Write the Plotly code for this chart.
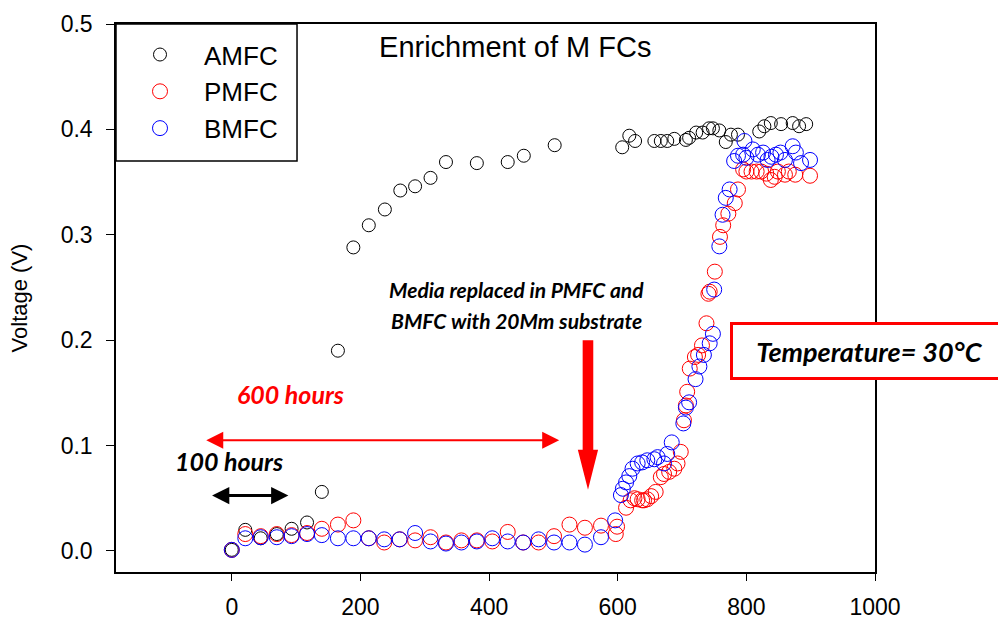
import plotly.graph_objects as go

# ---------------- data ----------------
amfc_x = [0, 21, 45, 70, 93, 117, 140, 165, 189, 213, 238, 262, 285, 309, 333, 381, 429, 454, 502,
          607, 618, 627, 657, 667, 677, 688, 706, 711, 722, 732, 742, 748, 758, 768, 776, 787,
          820, 828, 838, 854, 872, 882, 893]
amfc_y = [0.001, 0.020, 0.012, 0.016, 0.021, 0.027, 0.056, 0.190, 0.288, 0.309, 0.324, 0.342, 0.346, 0.354,
          0.369, 0.368, 0.369, 0.375, 0.385,
          0.383, 0.394, 0.389, 0.389, 0.389, 0.389, 0.391, 0.390, 0.392, 0.397, 0.397, 0.401, 0.401, 0.399,
          0.388, 0.395, 0.395,
          0.398, 0.403, 0.406, 0.405, 0.406, 0.403, 0.405]

pmfc_x = [0, 21, 45, 70, 93, 117, 140, 165, 189, 213, 237, 261, 285, 309, 333, 357, 381, 405, 429, 453,
          477, 501, 525, 549, 574, 597, 599, 613, 620, 626, 631, 638, 641, 646, 652, 659, 667, 672,
          680, 688, 693, 698, 703, 706, 708, 712, 720, 725, 731, 738, 741, 743, 751, 759, 764, 772,
          782, 787, 795, 800, 808, 816, 823, 831, 838, 844, 849, 860, 866, 876, 899]
pmfc_y = [0.001, 0.016, 0.014, 0.016, 0.015, 0.017, 0.021, 0.025, 0.029, 0.012, 0.008, 0.011, 0.010, 0.013,
          0.008, 0.010, 0.010, 0.009, 0.018, 0.008,
          0.008, 0.014, 0.025, 0.022, 0.024, 0.016, 0.023, 0.041, 0.048, 0.050, 0.049, 0.048, 0.048, 0.049,
          0.052, 0.056, 0.070, 0.073,
          0.075, 0.078, 0.083, 0.094, 0.124, 0.138, 0.151, 0.173, 0.184, 0.186, 0.195, 0.216, 0.244, 0.246,
          0.265, 0.298, 0.309, 0.320,
          0.330, 0.343, 0.362, 0.360, 0.360, 0.360, 0.360, 0.358, 0.352, 0.355, 0.360, 0.357, 0.360, 0.357, 0.356]

bmfc_x = [0, 21, 45, 70, 93, 117, 140, 165, 189, 213, 237, 261, 285, 309, 333, 357, 381, 405, 429, 453,
          477, 501, 525, 549, 574, 596, 605, 608, 613, 618, 623, 631, 638, 646, 657, 662, 672, 677,
          684, 702, 706, 711, 721, 727, 734, 743, 748, 750, 758, 763, 768, 774, 781, 787, 795, 797,
          800, 810, 818, 826, 833, 839, 846, 853, 860, 872, 877, 885, 899]
bmfc_y = [0.001, 0.012, 0.013, 0.013, 0.014, 0.016, 0.015, 0.012, 0.012, 0.012, 0.011, 0.011, 0.017, 0.009,
          0.007, 0.008, 0.009, 0.012, 0.009, 0.008,
          0.011, 0.008, 0.008, 0.006, 0.013, 0.029, 0.053, 0.059, 0.065, 0.071, 0.078, 0.083, 0.084, 0.086,
          0.087, 0.089, 0.083, 0.092,
          0.103, 0.121, 0.136, 0.141, 0.163, 0.175, 0.186, 0.197, 0.206, 0.248, 0.289, 0.319, 0.335, 0.343,
          0.370, 0.375, 0.376, 0.389,
          0.373, 0.381, 0.376, 0.378, 0.371, 0.374, 0.376, 0.378, 0.371, 0.384, 0.378, 0.368, 0.371]

series_names = ["AMFC", "PMFC", "BMFC"]
series_colors = ["#000000", "#ff0000", "#0000ff"]

x_ticks = [0, 200, 400, 600, 800, 1000]
y_ticks = [0.0, 0.1, 0.2, 0.3, 0.4, 0.5]

# ---------------- figure ----------------
fig = go.Figure()
for name, xs, ys, col, sz in zip(series_names,
                                 [amfc_x, pmfc_x, bmfc_x],
                                 [amfc_y, pmfc_y, bmfc_y],
                                 series_colors, [13, 15, 15]):
    fig.add_trace(go.Scatter(
        x=xs, y=ys, mode="markers", name=name, legendgroup=name,
        marker=dict(symbol="circle-open", size=sz, color=col, line=dict(width=1, color=col)),
    ))

bi = dict(family="Lato, Open Sans, sans-serif", weight="bold", style="italic")

annotations = [
    # media replaced text
    dict(x=443, y=0.248, xref="x", yref="y", text="Media replaced in PMFC and", showarrow=False,
         font=dict(size=21, color="black", **bi)),
    dict(x=443, y=0.219, xref="x", yref="y", text="BMFC with 20Mm substrate", showarrow=False,
         font=dict(size=21, color="black", **bi)),
    # 600 hours
    dict(x=92, y=0.149, xref="x", yref="y", text="600 hours", showarrow=False,
         font=dict(size=25, color="#ff0000", **bi)),
    # 100 hours
    dict(x=-4, y=0.0857, xref="x", yref="y", text="100 hours", showarrow=False,
         font=dict(size=25, color="black", **bi)),
    # red double arrow
    dict(x=509, y=0.105, ax=-42, ay=0.105, xref="x", yref="y", axref="x", ayref="y", text="",
         showarrow=True, arrowhead=2, startarrowhead=2, arrowside="end+start", arrowwidth=2,
         arrowsize=1.7, startarrowsize=1.7, arrowcolor="#ff0000"),
    # black double arrow
    dict(x=88, y=0.0525, ax=-33, ay=0.0525, xref="x", yref="y", axref="x", ayref="y", text="",
         showarrow=True, arrowhead=2, startarrowhead=2, arrowside="end+start", arrowwidth=3,
         arrowsize=1.15, startarrowsize=1.15, arrowcolor="black"),
    # temperature box
    dict(x=0.809, y=0.403, xref="paper", yref="paper", xanchor="left", yanchor="middle",
         text="Temperature= 30°C", showarrow=False, width=265, height=44, borderpad=4,
         bordercolor="#ff0000", borderwidth=3, bgcolor="white", align="center",
         font=dict(size=27, color="black", **bi)),
]

# thick red down arrow (shape) + legend frame
shapes = [
    dict(type="path", xref="x", yref="y",
         path="M 545.5 0.200 L 562 0.200 L 562 0.096 L 569.5 0.096 L 553.8 0.058 "
              "L 538 0.096 L 545.5 0.096 Z",
         fillcolor="#ff0000", line=dict(width=0)),
    dict(type="rect", xref="paper", yref="paper", x0=0, x1=0.2385, y0=0.75, y1=1,
         line=dict(color="black", width=1.5), fillcolor="rgba(0,0,0,0)", layer="above"),
]

axis_font = dict(family="Liberation Sans, Arial, sans-serif", size=23, color="black")

fig.update_layout(
    width=998, height=619,
    margin=dict(l=116, r=123, t=24, b=47),
    paper_bgcolor="white", plot_bgcolor="white",
    font=dict(family="Liberation Sans, Arial, sans-serif", color="black"),
    title=dict(text="Enrichment of M FCs", x=0.526, xref="paper", xanchor="center",
               y=1 - 47 / 619, yref="container", yanchor="middle",
               font=dict(family="Liberation Sans, Arial, sans-serif", size=29, color="black")),
    showlegend=True,
    legend=dict(x=0, y=0.987, xref="paper", yref="paper", xanchor="left", yanchor="top",
                borderwidth=0, bgcolor="rgba(0,0,0,0)",
                font=dict(family="Liberation Sans, Arial, sans-serif", size=26, color="black"),
                itemwidth=78, tracegroupgap=0, traceorder="normal"),
    annotations=annotations,
    shapes=shapes,
)

fig.update_xaxes(range=[-180, 1000], tickvals=x_ticks, ticktext=[str(v) for v in x_ticks],
                 showgrid=False, zeroline=False, showline=True, linecolor="black", linewidth=1.5,
                 mirror=True, ticks="outside", ticklen=7, tickwidth=1.2, tickcolor="black",
                 tickfont=axis_font, ticklabelstandoff=7, automargin=False)
fig.update_yaxes(range=[-0.02, 0.5], tickvals=y_ticks, ticktext=[f"{v:.1f}" for v in y_ticks],
                 showgrid=False, zeroline=False, showline=True, linecolor="black", linewidth=1.5,
                 mirror=True, ticks="outside", ticklen=8, tickwidth=1.2, tickcolor="black",
                 tickfont=axis_font, ticklabelstandoff=9, automargin=False,
                 title=dict(text="Voltage (V)", standoff=27,
                            font=dict(family="Liberation Sans, Arial, sans-serif", size=22, color="black")))

fig.write_html("out.html")
